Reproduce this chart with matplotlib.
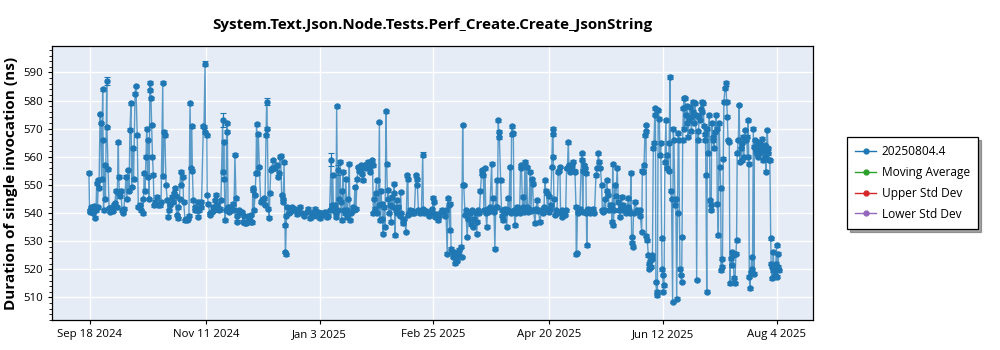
import numpy as np
import pandas as pd
import matplotlib
matplotlib.use("Agg")
import matplotlib.pyplot as plt
from matplotlib.ticker import MultipleLocator

plt.rcParams['font.family'] = ['Open Sans', 'DejaVu Sans']

title = "System.Text.Json.Node.Tests.Perf_Create.Create_JsonString"
y_label = "Duration of single invocation (ns)"
series_label = "20250804.4"
other_labels = ["Moving Average", "Upper Std Dev", "Lower Std Dev"]
other_colors = ["#2ca02c", "#d62728", "#9467bd"]
start_date = "2024-09-18"
tick_dates = ["2024-09-18", "2024-11-11", "2025-01-03", "2025-02-25",
              "2025-04-20", "2025-06-12", "2025-08-04"]
tick_labels = ["Sep 18 2024", "Nov 11 2024", "Jan 3 2025", "Feb 25 2025",
               "Apr 20 2025", "Jun 12 2025", "Aug 4 2025"]

# days after start_date
day_offsets = [
    -0.5, -0.2, 0.2, 0.5, 0.9, 1.4, 1.9, 2.3, 2.8, 3.1,
    3.5, 3.9, 4.2, 4.7, 5.0, 5.4, 5.9, 6.1, 6.3, 6.8,
    7.2, 7.8, 7.9, 8.4, 8.9, 9.3, 9.8, 10.2, 10.7, 11.2,
    11.6, 12.1, 12.6, 13.2, 13.4, 13.7, 14.0, 14.4, 14.9, 15.2,
    15.8, 16.8, 17.2, 17.7, 18.2, 18.6, 19.1, 19.4, 19.9, 20.3,
    21.0, 21.4, 22.0, 22.5, 23.3, 23.8, 24.5, 24.9, 25.3, 25.6,
    26.1, 26.4, 26.8, 27.2, 27.5, 27.9, 28.1, 28.4, 28.7, 29.1,
    29.5, 29.8, 30.3, 31.1, 31.7, 32.6, 33.1, 33.9, 34.1, 34.5,
    34.9, 35.4, 36.0, 36.5, 37.0, 37.5, 38.1, 38.7, 39.1, 39.6,
    40.0, 40.4, 40.8, 41.1, 41.7, 42.2, 42.6, 43.2, 43.6, 44.3,
    44.7, 45.0, 45.6, 46.1, 46.6, 47.0, 47.4, 47.7, 48.1, 48.7,
    49.1, 49.7, 50.1, 50.4, 51.0, 51.5, 51.9, 52.8, 53.1, 53.6,
    53.8, 54.4, 54.6, 55.1, 55.7, 55.9, 56.7, 57.3, 57.8, 58.2,
    58.7, 59.2, 59.9, 60.6, 61.0, 61.8, 62.1, 62.3, 62.6, 62.9,
    63.3, 63.7, 64.0, 64.3, 64.9, 65.4, 65.9, 66.7, 67.1, 67.5,
    68.0, 68.3, 68.7, 69.2, 69.9, 70.7, 71.3, 71.7, 72.2, 72.7,
    73.4, 74.1, 74.9, 75.2, 75.6, 75.8, 76.1, 76.4, 76.9, 77.3,
    77.6, 77.9, 78.4, 78.9, 79.5, 80.0, 80.7, 81.0, 81.5, 82.0,
    82.3, 82.6, 83.1, 83.5, 83.8, 84.2, 84.6, 85.4, 85.7, 86.2,
    87.0, 87.6, 88.2, 88.4, 88.8, 89.3, 89.7, 90.0, 90.4, 90.8,
    91.0, 91.1, 91.5, 91.9, 92.5, 93.2, 93.9, 94.6, 95.5, 96.4,
    97.1, 97.8, 98.8, 99.7, 100.9, 101.5, 102.5, 103.4, 104.1, 104.8,
    105.7, 106.4, 107.1, 107.8, 108.7, 109.5, 110.2, 110.9, 111.6, 112.3,
    112.6, 113.1, 113.4, 113.9, 114.4, 114.6, 114.9, 115.3, 115.7, 116.0,
    116.5, 116.8, 117.2, 117.6, 118.0, 118.3, 118.8, 119.2, 119.6, 119.9,
    120.4, 120.8, 121.1, 121.6, 122.3, 123.0, 123.4, 123.9, 124.4, 125.0,
    125.3, 125.8, 126.2, 126.7, 127.0, 127.4, 128.1, 128.6, 129.0, 129.6,
    130.0, 130.4, 130.9, 131.2, 131.6, 132.0, 132.3, 132.8, 133.1, 133.5,
    133.9, 134.4, 134.8, 135.1, 135.4, 135.9, 136.2, 136.6, 136.9, 137.4,
    137.9, 138.2, 138.6, 138.9, 139.3, 139.7, 140.2, 140.5, 141.0, 141.4,
    141.6, 142.1, 142.4, 142.9, 143.2, 143.6, 144.2, 144.7, 145.1, 145.6,
    145.9, 146.5, 147.2, 147.8, 148.1, 148.3, 148.8, 149.3, 149.8, 150.5,
    151.1, 151.8, 152.1, 152.5, 153.0, 153.7, 154.4, 155.0, 155.3, 155.8,
    156.3, 156.8, 157.4, 158.1, 158.8, 159.5, 159.9, 160.2, 160.7, 161.4,
    162.2, 162.8, 163.5, 164.2, 164.6, 165.4, 165.8, 166.4, 166.8, 167.1,
    167.7, 167.9, 168.2, 168.6, 169.2, 169.5, 170.0, 170.5, 170.9, 171.6,
    172.1, 172.7, 173.1, 173.6, 173.9, 174.1, 174.7, 175.1, 175.7, 176.1,
    176.5, 177.0, 177.5, 177.9, 178.5, 179.1, 179.6, 180.1, 180.5, 180.9,
    181.4, 181.9, 182.5, 182.8, 183.2, 183.5, 184.0, 184.4, 184.8, 185.2,
    185.6, 186.3, 187.1, 187.5, 187.9, 188.2, 188.6, 189.0, 189.4, 189.8,
    190.2, 190.4, 190.7, 191.3, 191.7, 192.1, 192.5, 193.1, 193.5, 194.1,
    194.5, 194.8, 195.2, 195.6, 196.1, 196.4, 196.8, 197.2, 197.5, 198.0,
    198.4, 198.8, 199.4, 200.1, 200.6, 201.0, 201.5, 201.8, 202.2, 202.6,
    203.1, 203.4, 203.8, 204.2, 204.5, 205.0, 205.4, 205.9, 206.2, 206.6,
    207.3, 207.7, 208.4, 208.9, 209.6, 210.3, 211.0, 211.5, 211.9, 212.3,
    212.7, 213.1, 213.6, 213.9, 214.3, 214.6, 215.1, 215.5, 215.7, 215.8,
    216.1, 216.6, 217.1, 217.5, 218.1, 218.5, 218.9, 219.2, 219.7, 220.1,
    220.6, 221.3, 221.6, 222.0, 222.4, 222.8, 223.1, 223.6, 224.0, 224.5,
    225.1, 225.4, 225.9, 226.4, 226.5, 226.7, 227.1, 227.5, 228.2, 229.0,
    229.3, 229.5, 229.8, 230.1, 230.6, 231.0, 231.2, 231.4, 231.7, 232.1,
    232.7, 233.1, 233.7, 234.3, 235.0, 235.7, 236.2, 236.8, 237.2, 237.8,
    238.3, 238.7, 239.1, 239.7, 240.1, 240.7, 241.0, 241.4, 242.0, 242.4,
    243.0, 243.2, 243.5, 243.8, 244.1, 244.5, 245.0, 245.6, 246.1, 246.4,
    246.9, 247.2, 247.7, 248.0, 248.5, 249.2, 249.9, 250.4, 250.7, 251.3,
    251.6, 252.0, 252.3, 252.6, 252.8, 253.2, 253.9, 254.6, 255.4, 256.0,
    256.4, 257.0, 257.3, 257.7, 258.1, 258.5, 258.8, 259.0, 259.2, 259.6,
    260.1, 260.3, 260.5, 260.8, 261.2, 261.6, 262.0, 262.4, 262.7, 263.2,
    263.4, 263.6, 264.0, 264.3, 264.7, 265.2, 265.5, 265.9, 266.3, 266.5,
    266.8, 267.1, 267.4, 267.8, 268.3, 268.6, 268.9, 269.5, 269.8, 270.2,
    270.5, 270.9, 271.4, 271.7, 272.0, 272.5, 272.9, 273.3, 273.7, 274.0,
    274.3, 274.8, 275.2, 275.6, 275.8, 276.1, 276.4, 276.7, 276.9, 277.1,
    277.6, 277.9, 278.3, 278.6, 279.0, 279.5, 279.8, 280.2, 280.7, 281.1,
    281.5, 281.8, 282.2, 282.6, 283.0, 283.4, 283.7, 284.1, 284.5, 284.9,
    285.3, 285.7, 286.0, 286.5, 286.7, 286.9, 287.3, 287.6, 288.0, 288.5,
    288.8, 289.1, 289.4, 289.6, 290.0, 290.3, 290.7, 291.1, 291.6, 292.0,
    292.2, 292.7, 293.1, 293.5, 293.8, 294.0, 294.3, 294.6, 295.0, 295.3,
    295.8, 296.2, 296.6, 296.9, 297.2, 297.8, 298.1, 298.5, 298.9, 299.3,
    299.6, 300.0, 300.4, 300.9, 301.2, 301.5, 302.0, 302.4, 302.8, 303.1,
    303.6, 303.9, 304.3, 304.6, 305.1, 305.6, 305.9, 306.3, 306.6, 306.9,
    307.1, 307.4, 307.8, 308.2, 308.6, 309.0, 309.3, 309.5, 309.8, 310.0,
    310.2, 310.5, 310.9, 311.2, 311.4, 311.8, 312.1, 312.5, 312.9, 313.3,
    313.6, 313.9, 314.4, 314.6, 314.9, 315.1, 315.5, 315.8, 316.0, 316.3,
    316.7, 317.1, 317.3, 317.6, 317.8, 318.0, 318.3, 318.6, 319.1, 319.3,
    319.5, 319.8, 320.1, 320.4, 320.6, 320.8,
]

durations_ns = [
    554.3, 541, 540.5, 542, 541.5, 540, 542.5, 538.3, 541, 550.6,
    542, 551.7, 549, 575.2, 572, 552, 584, 566, 541, 557,
    545, 587, 570.5, 555.6, 541.8, 540.5, 541.5, 542, 540.8, 543,
    543.5, 548, 542, 565.2, 552.9, 547, 546, 548, 541, 540,
    541.5, 553, 545, 555.3, 548, 569.7, 579, 549.3, 563, 552,
    582.5, 585.2, 567.7, 542.2, 543, 541, 539.9, 545, 554.1, 548,
    560, 570, 553, 566, 545, 586.3, 583.7, 580.8, 571.3, 560,
    553.7, 542.8, 544, 545.8, 543, 542.8, 544, 586.4, 553.1, 568.9,
    567.7, 550, 544.6, 538.7, 541, 543, 545.8, 544, 547, 548.8,
    546, 539.3, 542, 538.1, 545, 554.7, 550, 552.9, 544, 537.5,
    538, 537.5, 538, 539, 579, 556, 570.9, 555, 544.6, 541,
    542, 541, 544, 538.7, 541, 544, 542, 570.9, 570.7, 593,
    568.7, 567.7, 546.4, 543.4, 540, 539.3, 540.4, 542, 541, 544.6,
    546.6, 543, 541, 541.6, 544.6, 573, 554.7, 565.3, 552, 537.5,
    541, 571.9, 568.9, 542, 540.4, 542, 541, 543.4, 541, 560.8,
    545.2, 536.9, 539, 541, 539.9, 540.4, 537, 539, 536.3, 536.3,
    539, 538, 539.3, 537, 536.7, 548.1, 548.8, 541, 546.4, 554.1,
    571.5, 554.1, 568, 556.4, 544, 544.6, 544.6, 545.2, 543, 567.7,
    579.6, 570, 541.6, 538.4, 547, 555.3, 555.9, 558.8, 556, 555.9,
    557, 553, 554.1, 560, 560.4, 546.4, 545, 544, 558, 535.7,
    526.2, 525.3, 539, 542.2, 540, 540.4, 542, 541, 541.6, 539.5,
    541, 542.2, 540, 539, 540.4, 541.5, 538.1, 540, 539, 541.6,
    539, 540.5, 538.1, 540, 539.3, 540.5, 538.5, 539, 541, 559,
    542.8, 553.5, 541, 543, 540, 538.7, 578, 541, 555.3, 545,
    558.2, 544, 537.5, 548, 554.7, 541, 539.9, 552, 538.7, 541,
    545, 557.6, 537.5, 540, 542, 541, 549.3, 541.6, 552, 556.4,
    555, 555.3, 557, 554, 551.7, 556, 557, 556, 557.5, 558.2,
    556, 554.7, 558, 558.8, 557, 539.9, 545, 541.6, 547, 551.7,
    540, 543, 572.4, 537.5, 548, 543.4, 538, 532.7, 542, 535.1,
    576.2, 557.4, 545, 548.1, 540, 543, 537, 545.8, 542.2, 547,
    550.5, 532.1, 541, 544.6, 540, 542.2, 539, 547.5, 540, 537.5,
    536.3, 538, 533.3, 553.5, 552, 539.3, 540, 541.2, 539.9, 540.6,
    540, 553.5, 552, 550, 541, 539.9, 540.7, 560.8, 541.3, 540,
    540.8, 539.9, 540.5, 539, 540, 541.4, 545.5, 544, 538.7, 539.5,
    537.5, 539, 540.4, 541.2, 540.6, 539, 541, 525.6, 545.2, 543,
    533.9, 543.4, 527.4, 526, 524.4, 526, 522.1, 524, 523, 525.6,
    527, 528, 524.4, 571.3, 549.9, 550, 539.3, 541, 531.5, 538,
    540, 539.9, 536, 541, 535.1, 538, 540, 532.7, 537, 541,
    540, 548, 555.3, 554, 553.5, 541, 555.9, 540, 535.1, 541.6,
    540.3, 542, 557.6, 541, 545.2, 540.4, 527.4, 542, 551.7, 542,
    573, 568.9, 567, 551.7, 541, 539, 537.5, 541.5, 540, 535.1,
    541, 545.2, 540.6, 556.4, 540, 570.9, 568, 568.3, 541, 535.7,
    540, 542.2, 541.3, 540, 557, 556, 542, 545.8, 540.5, 558.2,
    541, 556.4, 542, 540.4, 541.6, 554.7, 540.8, 552, 550.5, 541,
    536.3, 541.5, 544.6, 540.7, 536.9, 541, 540, 542, 551.7, 548,
    547, 541, 546, 540.3, 541.4, 543, 556.4, 570, 568, 560,
    545, 539.3, 541, 540, 554.7, 555, 556.4, 540.4, 538.7, 541,
    540, 539.3, 541, 555.9, 556, 565.1, 557, 554.7, 556, 557,
    558.2, 555, 554.7, 542.2, 525.3, 525.8, 541, 540, 541.5, 561.2,
    559, 540.4, 555, 557, 556, 554.1, 540, 528.6, 541, 541.6,
    540, 541, 540.4, 541.5, 540, 553.5, 556, 561.2, 558.2, 556,
    549.9, 541, 540.4, 545, 541, 551.7, 548, 546.4, 541, 543,
    542.8, 537, 557.3, 535.7, 541, 549.9, 546, 556.1, 544, 541,
    538.7, 542, 545.8, 541, 543, 541.6, 540, 542, 545.2, 541,
    540, 554.3, 531.5, 529.5, 528, 540, 544, 541, 540.4, 541,
    539, 533.3, 555, 554.7, 557, 567.7, 569, 571.3, 532, 530.4,
    525, 522, 520.3, 523, 521, 523.8, 525, 563, 565, 577.2,
    575, 515.5, 510.8, 512, 576.6, 573.6, 560.6, 565, 531, 520,
    518, 512, 514.4, 558, 573, 555.9, 560.6, 555, 565, 588.4,
    548, 545, 508.4, 570, 566, 542.8, 545, 509.6, 540, 568.3,
    566, 520.3, 518, 515.5, 531.5, 565.9, 577.2, 580.8, 570, 580.8,
    575, 571.9, 578, 567.1, 573, 577.8, 574, 569, 579.6, 576,
    572, 579, 575, 516.2, 569, 565.9, 574, 573, 577, 579.6,
    576, 579, 571, 565.9, 568, 553.5, 512, 570, 561.2, 574.8,
    544.6, 541, 543, 571.9, 567, 565.9, 563, 568.9, 575, 570,
    543.4, 532.1, 571.9, 556.4, 548.8, 519.7, 523.8, 521, 559.4, 579.6,
    584.3, 586.1, 579.6, 574.2, 566, 565.3, 515, 524, 521.5, 526,
    525, 517, 515, 525.6, 530.4, 561.2, 566, 578.4, 558.2, 563,
    558.8, 565, 567.1, 560, 569.5, 566, 567.1, 560, 573, 557.6,
    517.4, 513.2, 519, 524.4, 520, 570, 518.5, 563.6, 563.6, 566,
    562, 565.3, 561, 564, 560, 561.2, 565, 563, 566.5, 562,
    558.8, 563, 564.1, 560, 554.7, 562, 569.5, 563, 561.2, 559,
    558.8, 531, 522, 516.8, 521, 519.7, 526.2, 520, 520.9, 518,
    522, 528.6, 517.4, 521, 525.6, 519.7,
]

# typical half-width of the error bars, and a few wider ones
typical_error = 0.5
wide_error_days = [7.8, 53.6, 61.8, 82.3, 112.3, 115.7, 155.0, 270.2, 296.2]
wide_error_sizes = [1.3, 0.9, 2.4, 1.3, 2.4, 1.8, 0.9, 0.8, 1.0]

start = pd.Timestamp(start_date)
dates = start + pd.to_timedelta(np.array(day_offsets), unit="D")
values = np.array(durations_ns)
errors = np.full(len(values), typical_error)
offs = np.array(day_offsets)
for d, e in zip(wide_error_days, wide_error_sizes):
    errors[np.argmin(np.abs(offs - d))] = e

fig = plt.figure(figsize=(10, 3.5), dpi=100)
ax = fig.add_axes([0.052, 0.0857, 0.761, 0.783])
ax.set_facecolor("#E5ECF6")

blue = "#1f77b4"
ax.plot(dates, values, color=blue, lw=1.0, alpha=0.7, zorder=2)
ax.errorbar(dates, values, yerr=errors, fmt="o", color=blue, ms=3.6,
            ecolor=blue, elinewidth=0.8, capsize=2.2, capthick=0.8, zorder=3)

# legend handles
ax.plot([], [], color=blue, marker="o", ms=3.5, lw=1, label=series_label)
for lbl, col in zip(other_labels, other_colors):
    ax.plot([], [], color=col, marker="o", ms=3.5, lw=1, label=lbl)

ax.set_ylim(502, 599.4)
ax.set_xlim(start + pd.Timedelta(days=-17.7), start + pd.Timedelta(days=336.8))
ax.set_xticks(pd.to_datetime(tick_dates))
ax.set_xticklabels(tick_labels)
ax.yaxis.set_minor_locator(MultipleLocator(2))
ax.set_yticks(np.arange(510, 591, 10))
ax.grid(True, color="white", lw=1.0, zorder=0)
ax.set_axisbelow(True)
ax.tick_params(axis="both", labelsize=8.2, length=3, width=0.8, colors="black")
ax.tick_params(axis="y", which="minor", length=2, width=0.6)
for s in ax.spines.values():
    s.set_color("black")
    s.set_linewidth(0.9)

ax.set_title(title, fontsize=10.9, fontweight="bold", pad=12)
ax.set_ylabel(y_label, fontsize=11.0, fontweight="bold", labelpad=4)

leg = ax.legend(loc="upper left", bbox_to_anchor=(1.037, 0.69), fontsize=8.6,
                frameon=True, fancybox=False, shadow=True, borderpad=0.7,
                labelspacing=0.65, handlelength=1.7, handletextpad=0.5)
leg.get_frame().set_edgecolor("black")
leg.get_frame().set_linewidth(0.9)

fig.savefig("out.png", dpi=100)
